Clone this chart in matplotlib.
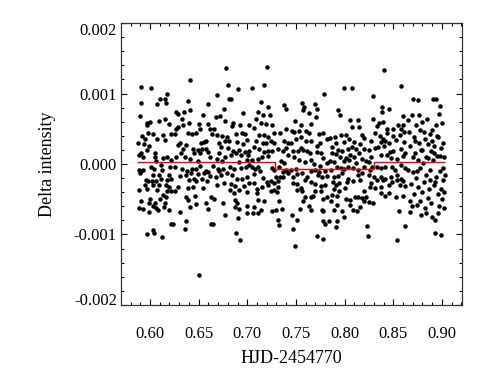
import matplotlib
matplotlib.use("Agg")
import matplotlib.pyplot as plt
import numpy as np
from matplotlib.ticker import MultipleLocator, FormatStrFormatter

# time of each point (HJD-2454770)
hjd = [
    0.5911, 0.6014, 0.6179, 0.6103, 0.6151, 0.6069, 0.6165, 0.5911, 0.5898, 0.5973,
    0.6000, 0.6096, 0.6158, 0.6192, 0.5966, 0.5980, 0.6028, 0.5918, 0.6137, 0.6220,
    0.5952, 0.6069, 0.6151, 0.5877, 0.5939, 0.5987, 0.5973, 0.5905, 0.6055, 0.5884,
    0.5925, 0.6048, 0.6137, 0.6179, 0.6062, 0.6220, 0.5884, 0.5905, 0.5932, 0.6007,
    0.6042, 0.6110, 0.6124, 0.6206, 0.5898, 0.6035, 0.6089, 0.6199, 0.5959, 0.5980,
    0.6021, 0.6062, 0.6110, 0.6179, 0.6220, 0.5952, 0.6035, 0.6096, 0.6165, 0.6192,
    0.5891, 0.5973, 0.6076, 0.6179, 0.6213, 0.6137, 0.6165, 0.6103, 0.6000, 0.5911,
    0.5987, 0.6048, 0.6151, 0.6028, 0.6062, 0.6144, 0.5891, 0.5932, 0.5987, 0.6083,
    0.6192, 0.6220, 0.5973, 0.6035, 0.6042, 0.6124,
    0.6407, 0.6394, 0.6592, 0.6414, 0.6263, 0.6284, 0.6352, 0.6544, 0.6325, 0.6400,
    0.6503, 0.6592, 0.6263, 0.6291, 0.6339, 0.6387, 0.6257, 0.6435, 0.6469, 0.6517,
    0.6620, 0.6579, 0.6551, 0.6524, 0.6311, 0.6284, 0.6373, 0.6339, 0.6442, 0.6490,
    0.6531, 0.6572, 0.6455, 0.6510, 0.6592, 0.6613, 0.6270, 0.6359, 0.6414, 0.6318,
    0.6496, 0.6257, 0.6332, 0.6380, 0.6428, 0.6476, 0.6517, 0.6579, 0.6305, 0.6366,
    0.6421, 0.6496, 0.6551, 0.6599, 0.6620, 0.6400, 0.6448, 0.6476, 0.6531, 0.6586,
    0.6284, 0.6257, 0.6394, 0.6442, 0.6544, 0.6373, 0.6387, 0.6462, 0.6627, 0.6414,
    0.6476, 0.6572, 0.6592, 0.6305, 0.6236, 0.6373, 0.6359, 0.6627, 0.6503,
    0.6781, 0.6801, 0.6904, 0.6685, 0.6808, 0.6829, 0.6760, 0.6959, 0.6678, 0.6719,
    0.6774, 0.6856, 0.6925, 0.7014, 0.6658, 0.6637, 0.6692, 0.6740, 0.6795, 0.6843,
    0.6884, 0.6945, 0.6973, 0.6706, 0.6767, 0.6815, 0.6897, 0.6952, 0.7000, 0.6733,
    0.6801, 0.6856, 0.6911, 0.6973, 0.7014, 0.6706, 0.6829, 0.6884, 0.6938, 0.7007,
    0.6774, 0.6685, 0.6740, 0.6911, 0.6993, 0.6651, 0.6699, 0.6712, 0.6753, 0.6822,
    0.6863, 0.6932, 0.6986, 0.7014, 0.6678, 0.6733, 0.6788, 0.6843, 0.6890, 0.6945,
    0.6993, 0.6692, 0.6760, 0.6836, 0.6877, 0.6966, 0.7014, 0.6822, 0.6863, 0.6911,
    0.6993, 0.6658, 0.6753, 0.6877, 0.6897, 0.6870, 0.6911, 0.6993, 0.6993, 0.6767,
    0.6904, 0.6651, 0.6884, 0.6925,
    0.7202, 0.7052, 0.7168, 0.7141, 0.7216, 0.7381, 0.7394, 0.7113, 0.7161, 0.7093,
    0.7072, 0.7141, 0.7189, 0.7257, 0.7237, 0.7120, 0.7175, 0.7216, 0.7278, 0.7339,
    0.7394, 0.7093, 0.7161, 0.7196, 0.7244, 0.7278, 0.7374, 0.7415, 0.7065, 0.7120,
    0.7175, 0.7209, 0.7257, 0.7312, 0.7367, 0.7394, 0.7154, 0.7216, 0.7415, 0.7052,
    0.7107, 0.7346, 0.7381, 0.7052, 0.7079, 0.7107, 0.7134, 0.7250, 0.7278, 0.7326,
    0.7367, 0.7394, 0.7415, 0.7072, 0.7161, 0.7202, 0.7244, 0.7298, 0.7339, 0.7367,
    0.7072, 0.7100, 0.7154, 0.7209, 0.7271, 0.7312, 0.7100, 0.7244, 0.7278, 0.7312,
    0.7107, 0.7168, 0.7305, 0.7326, 0.7072, 0.7113, 0.7059, 0.7141, 0.7250, 0.7298,
    0.7360, 0.7319, 0.7326,
    0.7788, 0.7562, 0.7699, 0.7720, 0.7583, 0.7569, 0.7631, 0.7706, 0.7487, 0.7555,
    0.7651, 0.7460, 0.7480, 0.7535, 0.7603, 0.7631, 0.7740, 0.7782, 0.7453, 0.7501,
    0.7555, 0.7603, 0.7651, 0.7713, 0.7747, 0.7823, 0.7466, 0.7521, 0.7576, 0.7617,
    0.7555, 0.7645, 0.7720, 0.7761, 0.7480, 0.7528, 0.7590, 0.7651, 0.7782, 0.7816,
    0.7686, 0.7747, 0.7446, 0.7501, 0.7562, 0.7651, 0.7693, 0.7740, 0.7795, 0.7466,
    0.7514, 0.7610, 0.7727, 0.7768, 0.7823, 0.7466, 0.7508, 0.7555, 0.7597, 0.7651,
    0.7699, 0.7754, 0.7795, 0.7508, 0.7562, 0.7692, 0.7761, 0.7597, 0.7651, 0.7679,
    0.7782, 0.7816, 0.7576, 0.7631, 0.7542, 0.7658, 0.7768, 0.7782, 0.7460, 0.7508,
    0.7782, 0.7795, 0.7473, 0.7720, 0.7775, 0.7487,
    0.7998, 0.8073, 0.7936, 0.7950, 0.8059, 0.8141, 0.8080, 0.8148, 0.8176, 0.8196,
    0.7854, 0.7902, 0.7963, 0.8018, 0.8046, 0.8100, 0.7874, 0.7915, 0.7998, 0.7936,
    0.7977, 0.8032, 0.8080, 0.8155, 0.8121, 0.8203, 0.7874, 0.7909, 0.7956, 0.8011,
    0.8059, 0.8100, 0.8148, 0.7847, 0.7888, 0.7991, 0.8046, 0.8114, 0.8183, 0.8224,
    0.7861, 0.7922, 0.7963, 0.7998, 0.8039, 0.8087, 0.8141, 0.8196, 0.7888, 0.7936,
    0.7977, 0.8032, 0.8141, 0.8183, 0.7881, 0.7909, 0.7943, 0.8025, 0.8087, 0.8162,
    0.7895, 0.7943, 0.8004, 0.8196, 0.7867, 0.7922, 0.8011, 0.8052, 0.8107, 0.8141,
    0.8183, 0.8217, 0.7861, 0.7922, 0.8059, 0.8087, 0.8155, 0.8196, 0.7895, 0.7977,
    0.7991, 0.8128, 0.7840, 0.7922, 0.7915, 0.8231, 0.8244,
    0.8405, 0.8577, 0.8296, 0.8385, 0.8385, 0.8460, 0.8597, 0.8289, 0.8351, 0.8399,
    0.8337, 0.8549, 0.8597, 0.8316, 0.8433, 0.8501, 0.8577, 0.8364, 0.8392, 0.8440,
    0.8495, 0.8570, 0.8611, 0.8371, 0.8419, 0.8460, 0.8529, 0.8275, 0.8611, 0.8255,
    0.8310, 0.8344, 0.8405, 0.8467, 0.8501, 0.8577, 0.8618, 0.8268, 0.8378, 0.8440,
    0.8474, 0.8542, 0.8597, 0.8255, 0.8262, 0.8282, 0.8337, 0.8378, 0.8412, 0.8488,
    0.8522, 0.8577, 0.8618, 0.8248, 0.8303, 0.8378, 0.8419, 0.8481, 0.8542, 0.8584,
    0.8268, 0.8337, 0.8392, 0.8488, 0.8536, 0.8597, 0.8262, 0.8310, 0.8371, 0.8453,
    0.8570, 0.8625, 0.8378, 0.8412, 0.8453, 0.8529, 0.8597, 0.8248, 0.8296, 0.8556,
    0.8625, 0.8542,
    0.8655, 0.8662, 0.8668, 0.8675, 0.8682, 0.8689, 0.8696, 0.8703, 0.8703, 0.8710,
    0.8716, 0.8723, 0.8730, 0.8737, 0.8744, 0.8751, 0.8754, 0.8757, 0.8764, 0.8771,
    0.8778, 0.8781, 0.8785, 0.8792, 0.8795, 0.8805, 0.8812, 0.8822, 0.8826, 0.8833,
    0.8840, 0.8846, 0.8853, 0.8860, 0.8867, 0.8874, 0.8881, 0.8888, 0.8891, 0.8894,
    0.8901, 0.8908, 0.8908, 0.8915, 0.8922, 0.8925, 0.8929, 0.8935, 0.8942, 0.8942,
    0.8949, 0.8956, 0.8963, 0.8970, 0.8970, 0.8976, 0.8983, 0.8987, 0.8990, 0.8994,
    0.9000, 0.9004, 0.9008, 0.9011, 0.9014, 0.9017, 0.9021, 0.9024, 0.9028, 0.8650,
    0.8672, 0.8700, 0.8726, 0.8748, 0.8760, 0.8775, 0.8800, 0.8818, 0.8837, 0.8857,
    0.8877, 0.8897, 0.8918, 0.8932, 0.8952, 0.8960, 0.8980,
]

# delta intensity of each point, in units of 1e-3
delta_milli = [
    1.094, 1.075, 1.000, 0.915, 0.915, 0.849, 0.868, 0.868, 0.684, 0.575,
    0.594, 0.604, 0.632, 0.566, 0.552, 0.443, 0.425, 0.396, 0.415, 0.425,
    0.349, 0.349, 0.340, 0.292, 0.283, 0.255, 0.198, 0.151, 0.160, 0.123,
    0.094, 0.104, 0.085, 0.104, 0.047, 0.057, -0.085, -0.104, -0.085, -0.038,
    -0.066, -0.019, -0.085, -0.047, -0.132, -0.160, -0.151, -0.160, -0.226, -0.245,
    -0.236, -0.236, -0.208, -0.226, -0.217, -0.292, -0.302, -0.292, -0.302, -0.321,
    -0.368, -0.358, -0.368, -0.387, -0.377, -0.434, -0.462, -0.500, -0.491, -0.528,
    -0.557, -0.547, -0.547, -0.594, -0.623, -0.604, -0.623, -0.642, -0.679, -0.651,
    -0.651, -0.849, -0.991, -0.934, -0.981, -1.038,
    1.189, 0.896, 0.858, 0.764, 0.736, 0.708, 0.736, 0.698, 0.632, 0.585,
    0.566, 0.566, 0.500, 0.519, 0.547, 0.443, 0.425, 0.425, 0.434, 0.491,
    0.491, 0.330, 0.311, 0.292, 0.302, 0.269, 0.264, 0.208, 0.208, 0.198,
    0.208, 0.217, 0.151, 0.160, 0.170, 0.104, 0.104, 0.094, 0.075, 0.151,
    0.047, -0.038, -0.075, -0.094, -0.066, -0.066, -0.028, -0.094, -0.170, -0.151,
    -0.132, -0.142, -0.132, -0.113, -0.170, -0.226, -0.217, -0.245, -0.217, -0.245,
    -0.321, -0.377, -0.340, -0.321, -0.340, -0.462, -0.509, -0.453, -0.472, -0.604,
    -0.566, -0.557, -0.642, -0.679, -0.858, -0.802, -0.925, -0.849, -1.571,
    1.368, 1.123, 1.057, 0.972, 0.925, 0.915, 0.774, 0.717, 0.670, 0.679,
    0.613, 0.575, 0.547, 0.557, 0.500, 0.425, 0.406, 0.396, 0.377, 0.538,
    0.425, 0.443, 0.425, 0.302, 0.330, 0.330, 0.311, 0.283, 0.340, 0.245,
    0.226, 0.189, 0.198, 0.170, 0.189, 0.151, 0.123, 0.151, 0.132, 0.132,
    0.094, 0.066, 0.047, 0.028, 0.057, -0.028, -0.066, -0.104, -0.066, -0.038,
    -0.066, -0.057, -0.047, -0.019, -0.179, -0.160, -0.123, -0.151, -0.217, -0.208,
    -0.179, -0.302, -0.274, -0.283, -0.311, -0.311, -0.264, -0.368, -0.406, -0.368,
    -0.396, -0.491, -0.557, -0.509, -0.557, -0.613, -0.642, -0.594, -0.698, -0.726,
    -0.764, -0.849, -0.972, -1.085,
    1.377, 1.075, 1.123, 0.877, 0.811, 0.840, 0.774, 0.736, 0.698, 0.642,
    0.509, 0.575, 0.566, 0.547, 0.689, 0.406, 0.406, 0.377, 0.434, 0.434,
    0.491, 0.330, 0.302, 0.292, 0.321, 0.292, 0.321, 0.292, 0.245, 0.208,
    0.170, 0.189, 0.189, 0.217, 0.189, 0.226, 0.104, 0.113, 0.123, 0.057,
    0.075, 0.038, 0.009, -0.047, -0.066, -0.038, -0.094, -0.057, -0.085, -0.038,
    -0.113, -0.085, -0.132, -0.142, -0.198, -0.255, -0.236, -0.189, -0.189, -0.189,
    -0.264, -0.358, -0.321, -0.292, -0.274, -0.245, -0.406, -0.377, -0.368, -0.330,
    -0.509, -0.528, -0.396, -0.528, -0.613, -0.689, -0.698, -0.651, -0.670, -0.651,
    -0.632, -0.792, -0.868,
    1.000, 0.868, 0.858, 0.774, 0.802, 0.764, 0.726, 0.660, 0.604, 0.557,
    0.566, 0.472, 0.453, 0.462, 0.462, 0.434, 0.425, 0.443, 0.302, 0.349,
    0.387, 0.321, 0.330, 0.255, 0.292, 0.358, 0.189, 0.189, 0.198, 0.179,
    0.226, 0.151, 0.170, 0.151, 0.104, 0.057, 0.028, 0.057, 0.085, 0.009,
    0.000, -0.028, -0.085, -0.075, -0.123, -0.104, -0.085, -0.113, -0.104, -0.179,
    -0.142, -0.179, -0.160, -0.189, -0.170, -0.264, -0.283, -0.340, -0.226, -0.255,
    -0.283, -0.311, -0.292, -0.368, -0.377, -0.387, -0.377, -0.462, -0.472, -0.453,
    -0.491, -0.472, -0.528, -0.594, -0.632, -0.651, -0.651, -0.670, -0.726, -0.792,
    -0.811, -0.858, -0.925, -1.019, -1.057, -1.170,
    1.075, 1.075, 0.764, 0.698, 0.623, 0.623, 0.528, 0.519, 0.415, 0.368,
    0.368, 0.377, 0.406, 0.415, 0.358, 0.311, 0.245, 0.292, 0.311, 0.198,
    0.189, 0.217, 0.245, 0.283, 0.217, 0.217, 0.151, 0.142, 0.104, 0.085,
    0.132, 0.104, 0.151, 0.047, 0.028, 0.038, 0.057, 0.019, 0.066, 0.038,
    -0.085, -0.038, -0.057, -0.075, -0.047, -0.057, -0.085, -0.047, -0.179, -0.170,
    -0.132, -0.217, -0.160, -0.132, -0.255, -0.302, -0.264, -0.255, -0.245, -0.226,
    -0.349, -0.377, -0.340, -0.387, -0.434, -0.453, -0.491, -0.509, -0.462, -0.472,
    -0.481, -0.472, -0.528, -0.575, -0.585, -0.651, -0.604, -0.528, -0.651, -0.670,
    -0.745, -0.670, -0.802, -0.802, -0.887, -0.877, -1.019,
    1.330, 1.113, 0.962, 0.811, 0.736, 0.774, 0.679, 0.642, 0.575, 0.594,
    0.538, 0.547, 0.557, 0.434, 0.500, 0.500, 0.500, 0.396, 0.358, 0.434,
    0.396, 0.406, 0.453, 0.311, 0.321, 0.292, 0.340, 0.330, 0.311, 0.198,
    0.226, 0.245, 0.255, 0.170, 0.189, 0.208, 0.151, 0.104, 0.123, 0.123,
    0.085, 0.075, 0.113, 0.028, -0.085, -0.047, -0.038, -0.057, -0.047, -0.038,
    -0.085, -0.019, -0.057, -0.160, -0.179, -0.179, -0.208, -0.189, -0.160, -0.208,
    -0.264, -0.226, -0.226, -0.255, -0.226, -0.245, -0.321, -0.340, -0.330, -0.292,
    -0.292, -0.311, -0.415, -0.453, -0.415, -0.472, -0.453, -0.538, -0.557, -0.670,
    -0.877, -1.075,
    -0.08, 0.45, -0.52, 0.25, -0.28, 0.70, -0.60, 0.92, -0.12, 0.38,
    -0.43, 0.15, -0.20, 0.55, -0.58, 0.05, 0.91, -0.33, 0.30, -0.05,
    0.48, -0.72, 0.20, -0.40, 0.60, 0.02, -0.25, 0.35, -0.62, 0.10,
    -0.15, 0.64, -0.48, 0.28, -0.35, 0.42, -0.08, 0.18, -0.55, 0.32,
    -0.75, 0.92, 0.05, -0.30, 0.25, -0.80, -0.98, 0.55, 0.92, -0.18,
    0.12, -0.42, 0.38, 0.71, -0.60, -0.10, 0.82, -1.01, 0.22, -0.35,
    0.58, -0.50, -0.05, 0.30, -0.22, -0.62, 0.10, -0.40, -0.15, 0.62,
    -0.68, 0.10, 0.33, -0.10, 0.70, -0.52, 0.20, 0.45, -0.70, 0.08,
    -0.22, 0.48, 0.15, -0.25, 0.40, -0.70, 0.12,
]

# red step fit: segment edges and levels
fit_edges = [0.5870, 0.7286, 0.8306, 0.9028]
fit_levels = [0.000033, -0.000065, 0.000033]

# axis ticks
xticks = [0.60, 0.65, 0.70, 0.75, 0.80, 0.85, 0.90]
yticks = [-0.002, -0.001, 0.0, 0.001, 0.002]

delta = np.array(delta_milli) * 1e-3

plt.rcParams['font.family'] = ['Liberation Serif', 'DejaVu Serif']
fig = plt.figure(figsize=(4.91, 3.81), dpi=100)
ax = fig.add_axes([0.2464, 0.1995, 0.6945, 0.7401])

ax.scatter(hjd, delta, s=10.5, color='black', linewidths=0, zorder=2)
ax.stairs(fit_levels, fit_edges, baseline=None, color='red', linewidth=1.0, zorder=3)

ax.set_xticks(xticks)
ax.set_yticks(yticks)
ax.xaxis.set_minor_locator(MultipleLocator(0.01))
ax.yaxis.set_minor_locator(MultipleLocator(0.0002))
ax.xaxis.set_major_formatter(FormatStrFormatter('%.2f'))
ax.yaxis.set_major_formatter(FormatStrFormatter('%.3f'))

ax.set_xlim(0.5702, 0.9206)
ax.set_ylim(-0.002, 0.002)

ax.tick_params(which='both', direction='in', top=True, right=True, width=0.8, labelsize=12)
ax.tick_params(which='major', length=4)
ax.tick_params(which='minor', length=2)
ax.tick_params(axis='x', pad=15)
ax.tick_params(axis='y', pad=3)
for sp in ax.spines.values():
    sp.set_linewidth(0.9)
    sp.set_color('#333333')

# IDL-like placement: the two edge labels are kept inside the frame
yt = ax.yaxis.get_major_ticks()
yt[0].label1.set_verticalalignment('baseline')
yt[-1].label1.set_verticalalignment('top')

ax.set_xlabel('HJD-2454770', fontsize=13, labelpad=6)
ax.set_ylabel('Delta intensity', fontsize=13, labelpad=13)

fig.savefig('out.png', dpi=100)
